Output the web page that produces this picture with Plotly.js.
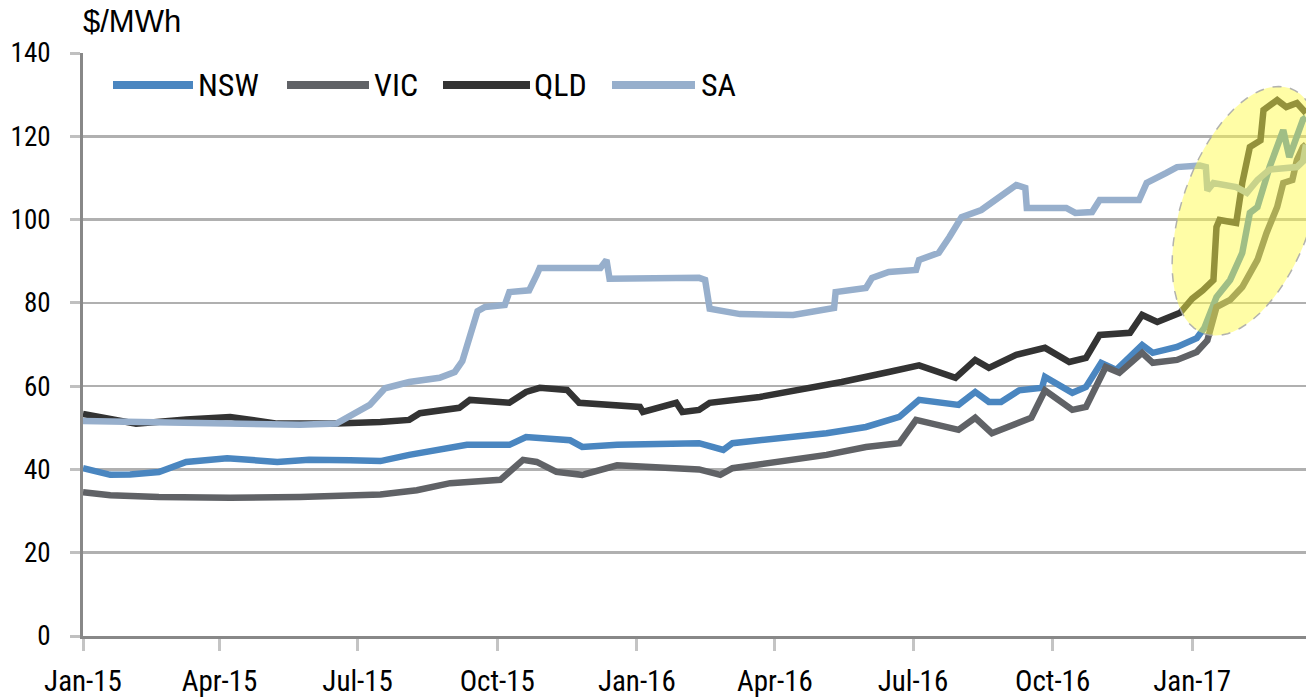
<!DOCTYPE html>
<html>
<head>
<meta charset="utf-8">
<script src="https://cdn.plot.ly/plotly-3.0.1.min.js"></script>
<style>html,body{margin:0;padding:0;background:#fff;}#chart{width:1306px;height:699px;}</style>
</head>
<body>
<div id="chart"></div>
<script>
const seriesNames = ["NSW", "VIC", "QLD", "SA"];
const seriesColors = ["#4a86c0", "#606266", "#333333", "#97afcc"];

const nswDates = ["2015-01-01","2015-01-19","2015-02-01","2015-02-20","2015-03-10","2015-04-06","2015-05-09","2015-05-30","2015-06-26","2015-07-16","2015-08-04","2015-09-11","2015-10-09","2015-10-20","2015-11-18","2015-11-26","2015-12-19","2016-02-11","2016-02-27","2016-03-04","2016-05-05","2016-05-31","2016-06-22","2016-07-05","2016-07-31","2016-08-11","2016-08-20","2016-08-28","2016-09-09","2016-09-24","2016-09-26","2016-10-14","2016-10-23","2016-11-02","2016-11-12","2016-11-29","2016-12-06","2016-12-22","2017-01-04","2017-01-09","2017-01-17","2017-01-26","2017-02-03","2017-02-08","2017-02-13","2017-02-17","2017-02-21","2017-03-02","2017-03-06","2017-03-15","2017-03-17"];
const nswValues = [40.3,38.7,38.8,39.4,41.8,42.7,41.8,42.3,42.2,42.0,43.5,45.9,45.9,47.8,47.0,45.4,45.9,46.3,44.7,46.3,48.7,50.2,52.6,56.7,55.5,58.6,56.2,56.2,59.0,59.6,62.2,58.4,59.8,65.6,63.9,69.9,68.0,69.4,71.5,74.0,81.4,85.5,92.0,101.6,103.0,107.8,112.6,121.5,115.0,124.0,124.5];

const vicDates = ["2015-01-01","2015-01-19","2015-02-20","2015-04-08","2015-05-24","2015-06-26","2015-07-16","2015-08-09","2015-08-31","2015-10-03","2015-10-18","2015-10-27","2015-11-09","2015-11-26","2015-12-19","2016-02-11","2016-02-25","2016-03-04","2016-05-05","2016-05-31","2016-06-22","2016-07-03","2016-07-31","2016-08-11","2016-08-22","2016-09-17","2016-09-26","2016-10-14","2016-10-23","2016-11-05","2016-11-14","2016-11-29","2016-12-06","2016-12-22","2017-01-04","2017-01-11","2017-01-17","2017-01-26","2017-02-03","2017-02-13","2017-02-19","2017-02-26","2017-03-02","2017-03-08","2017-03-11","2017-03-15","2017-03-17"];
const vicValues = [34.5,33.8,33.4,33.2,33.4,34.0,34.0,35.0,36.7,37.5,42.3,41.8,39.4,38.7,41.0,40.0,38.7,40.3,43.5,45.4,46.3,51.9,49.5,52.4,48.7,52.4,59.0,54.3,55.0,64.6,63.2,68.0,65.6,66.3,68.2,71.0,79.0,80.7,83.8,90.3,96.8,103.0,108.8,109.5,114.3,117.4,118.0];

const qldDates = ["2015-01-01","2015-02-05","2015-03-10","2015-04-08","2015-05-09","2015-06-17","2015-07-16","2015-08-04","2015-08-11","2015-09-06","2015-09-13","2015-10-09","2015-10-20","2015-10-29","2015-11-16","2015-11-24","2016-01-03","2016-01-05","2016-01-27","2016-01-31","2016-02-11","2016-02-18","2016-03-22","2016-04-11","2016-05-15","2016-06-15","2016-07-05","2016-07-29","2016-08-11","2016-08-20","2016-09-07","2016-09-26","2016-10-12","2016-10-23","2016-11-01","2016-11-21","2016-11-29","2016-12-09","2016-12-24","2017-01-01","2017-01-08","2017-01-15","2017-01-17","2017-01-19","2017-01-30","2017-02-03","2017-02-08","2017-02-15","2017-02-17","2017-02-26","2017-03-04","2017-03-11","2017-03-17"];
const qldValues = [53.3,51.0,52.0,52.6,51.0,51.0,51.4,51.9,53.5,54.8,56.7,56.0,58.6,59.6,59.1,56.0,55.0,53.8,56.0,53.8,54.3,56.0,57.4,58.6,61.0,63.4,65.0,62.0,66.3,64.4,67.5,69.2,65.8,66.8,72.3,72.8,77.1,75.4,77.6,81.0,83.0,85.5,98.2,99.9,99.2,108.8,117.4,119.0,126.3,128.7,127.0,128.0,125.6];

const saDates = ["2015-01-01","2015-03-10","2015-05-24","2015-06-17","2015-06-26","2015-07-09","2015-07-19","2015-08-04","2015-08-24","2015-09-03","2015-09-08","2015-09-13","2015-09-18","2015-09-23","2015-10-06","2015-10-09","2015-10-22","2015-10-27","2015-10-29","2015-12-08","2015-12-12","2015-12-14","2016-02-11","2016-02-15","2016-02-18","2016-03-09","2016-04-13","2016-05-10","2016-05-11","2016-05-31","2016-06-04","2016-06-15","2016-07-03","2016-07-05","2016-07-18","2016-07-25","2016-08-02","2016-08-15","2016-08-24","2016-09-01","2016-09-07","2016-09-13","2016-09-14","2016-10-10","2016-10-16","2016-10-27","2016-11-01","2016-11-27","2016-12-02","2016-12-15","2016-12-22","2017-01-06","2017-01-10","2017-01-11","2017-01-15","2017-01-30","2017-02-06","2017-02-13","2017-02-21","2017-03-11","2017-03-15","2017-03-17"];
const saValues = [51.6,51.3,50.7,51.0,53.0,55.5,59.5,61.0,62.0,63.4,66.0,72.0,78.0,79.0,79.5,82.6,83.0,86.7,88.4,88.4,90.3,85.8,86.0,85.5,78.6,77.3,77.1,78.8,82.6,83.6,86.0,87.4,87.9,90.3,92.0,95.8,100.6,102.3,104.7,107.0,108.3,107.6,102.8,102.8,101.6,101.8,104.7,104.7,108.8,111.2,112.6,113.0,112.6,107.0,108.8,107.8,106.4,109.5,112.0,112.6,114.0,118.0];

const yTicks = [0, 20, 40, 60, 80, 100, 120, 140];
const unitLabel = "$/MWh";

const allDates = [nswDates, vicDates, qldDates, saDates];
const allValues = [nswValues, vicValues, qldValues, saValues];

const narrow = "Liberation Sans Narrow, Arial Narrow, Roboto Condensed, Liberation Sans, sans-serif";

const traces = seriesNames.map((n, i) => ({
  type: "scatter", mode: "lines", name: n,
  x: allDates[i], y: allValues[i],
  line: {color: seriesColors[i], width: 6.5, shape: "linear"},
  showlegend: false, hoverinfo: "x+y+name"
}));

// plot area geometry (pixels) for overlay positioning
const W = 1306, H = 699, L = 83, R = 0, T = 53, B = 63;
const pw = W - L - R, ph = H - T - B;
const px2x = p => (p - L) / pw;
const py2y = p => (H - B - p) / ph;

// custom legend with long line samples
const legendSpec = [[113, 193, 196], [287, 369, 372], [443, 530, 532], [612, 695, 699]];
const legendY = 85;
const shapes = [];
const annotations = [];
seriesNames.forEach((n, i) => {
  const s = legendSpec[i];
  shapes.push({type: "line", xref: "paper", yref: "paper",
    x0: px2x(s[0]), x1: px2x(s[1]), y0: py2y(legendY), y1: py2y(legendY),
    line: {color: seriesColors[i], width: 8}});
  annotations.push({xref: "paper", yref: "paper", x: px2x(s[2]), y: py2y(legendY),
    xanchor: "left", yanchor: "middle", text: n, showarrow: false,
    font: {family: narrow, size: 32, color: "#000"}});
});

// highlight ellipse (tilted)
(function () {
  const cx = 1247, cy = 211, a = 130, b = 65;
  const ux = 0.33, uy = -0.944; // major axis direction
  const vx = -uy, vy = ux;
  let d = "";
  for (let k = 0; k <= 72; k++) {
    const t = 2 * Math.PI * k / 72;
    const X = cx + a * Math.cos(t) * ux + b * Math.sin(t) * vx;
    const Y = cy + a * Math.cos(t) * uy + b * Math.sin(t) * vy;
    d += (k === 0 ? "M" : "L") + px2x(X).toFixed(5) + "," + py2y(Y).toFixed(5);
  }
  d += "Z";
  shapes.push({type: "path", xref: "paper", yref: "paper", path: d, layer: "above",
    fillcolor: "rgba(255,250,70,0.48)",
    line: {color: "rgba(170,170,170,0.9)", width: 1.5, dash: "dash"}});
})();

annotations.push({xref: "paper", yref: "paper", x: px2x(81), y: 1, xanchor: "left", yanchor: "bottom",
  yshift: 12, text: unitLabel, showarrow: false, font: {family: "Liberation Sans, Arial, sans-serif", size: 31, color: "#000"}});

const layout = {
  width: W, height: H,
  margin: {l: L, r: R, t: T, b: B, pad: 0},
  paper_bgcolor: "#fff", plot_bgcolor: "#fff",
  showlegend: false,
  xaxis: {
    type: "date", range: ["2015-01-01", "2017-03-17"],
    tick0: "2015-01-01", dtick: "M3", tickformat: "%b-%y",
    showgrid: false, zeroline: false,
    showline: true, linecolor: "#888", linewidth: 3,
    ticks: "outside", ticklen: 12, tickwidth: 3, tickcolor: "#c4c4c4",
    tickfont: {family: narrow, size: 29, color: "#000"},
    ticklabelstandoff: 5
  },
  yaxis: {
    range: [0, 140], tickvals: yTicks, ticktext: yTicks.map(String),
    showgrid: true, gridcolor: "#b0b0b0", gridwidth: 2.5,
    zeroline: false, showline: true, linecolor: "#888", linewidth: 3,
    ticks: "outside", ticklen: 10, tickwidth: 3, tickcolor: "#c0c0c0",
    tickfont: {family: narrow, size: 27, color: "#000"},
    ticklabelstandoff: 14
  },
  shapes: shapes,
  annotations: annotations
};

Plotly.newPlot("chart", traces, layout, {staticPlot: true, displayModeBar: false});
</script>
</body>
</html>
